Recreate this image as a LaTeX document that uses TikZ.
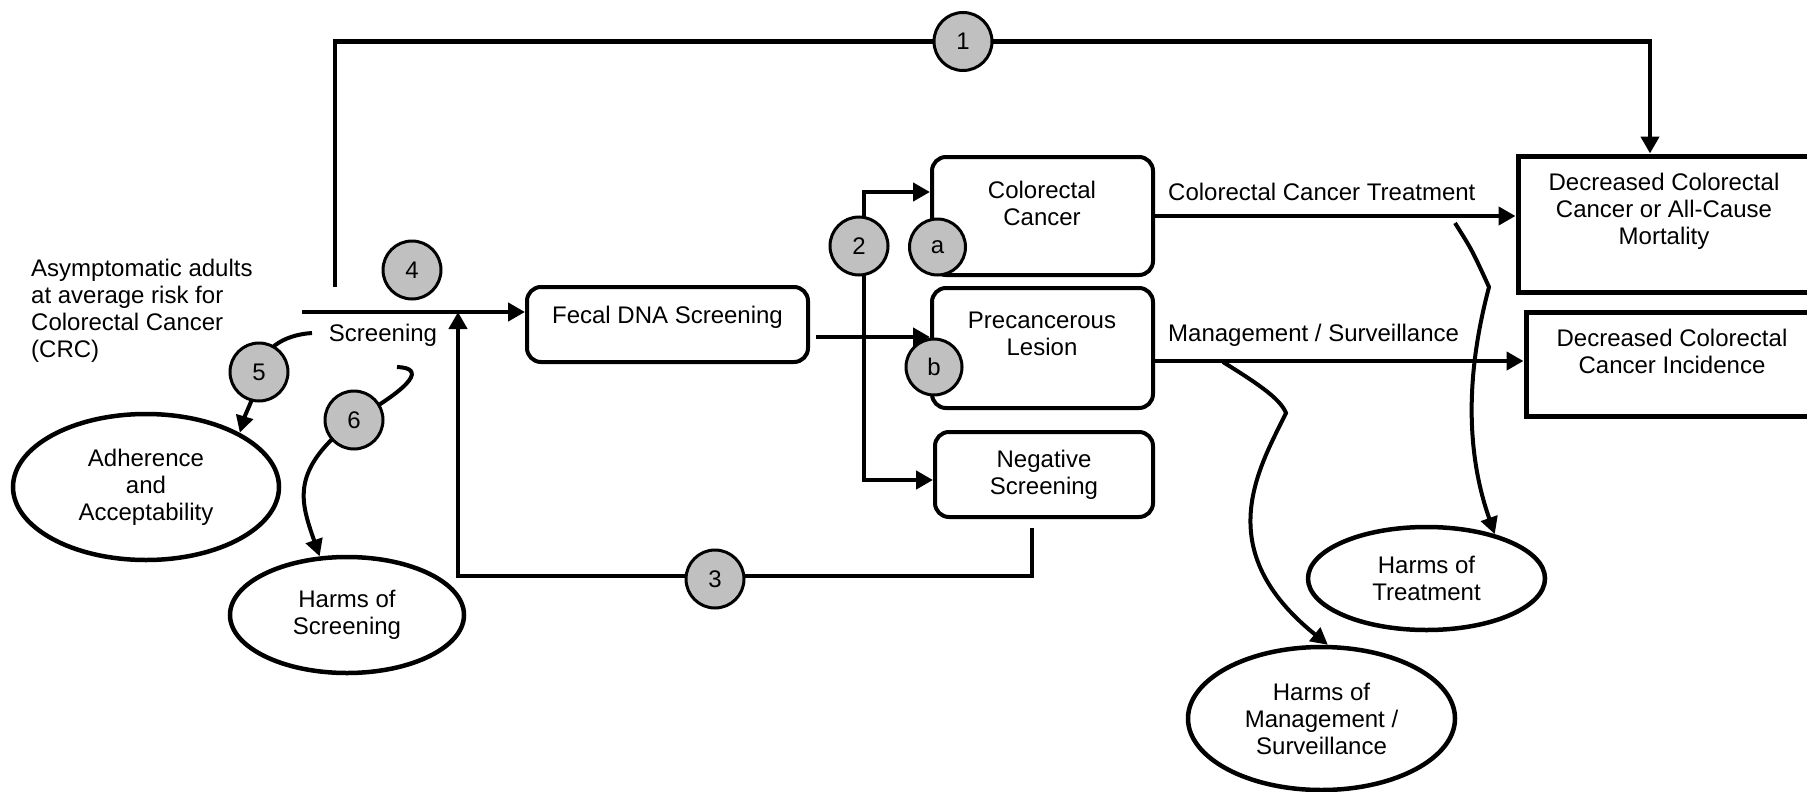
\documentclass[tikz,border=0pt]{standalone}
\usepackage{fontspec}
\setmainfont{Liberation Sans}
\usetikzlibrary{arrows.meta,shapes.geometric,calc}
\definecolor{numgray}{RGB}{192,192,192}
\begin{document}
\begin{tikzpicture}[x=1pt,y=-1pt,
  txt/.style={font=\fontsize{24}{27}\selectfont, inner sep=0pt, align=center},
  rbox/.style={draw, line width=4pt, rounded corners=14pt, inner sep=0pt},
  sbox/.style={draw, line width=5pt, inner sep=0pt},
  oval/.style={draw, ellipse, line width=4.5pt, inner sep=0pt, align=center, font=\fontsize{24}{27}\selectfont},
  num/.style={draw, circle, fill=numgray, line width=3pt, minimum size=58pt, inner sep=0pt, font=\fontsize{24}{27}\selectfont},
  conn/.style={line width=4.5pt},
  arr/.style={conn, -{Triangle[length=17pt,width=18pt]}},
  curve/.style={line width=4pt, -{Triangle[length=17pt,width=17pt]}},
]
\useasboundingbox (0,0) rectangle (1807,792);
\clip (0,0) rectangle (1807,792);

% boxes
\node[rbox, minimum width=281pt, minimum height=75pt] (fecal) at (667.5,324.5) {};
\node[txt] (fecalt) at (667.5,317) {Fecal DNA Screening};
\node[rbox, minimum width=221pt, minimum height=118pt] (cc) at (1042.5,216) {};
\node[txt] (cct) at (1042,203.5) {Colorectal\\Cancer};
\node[rbox, minimum width=221pt, minimum height=120pt] (pl) at (1042.5,348) {};
\node[txt] (plt) at (1042,333.5) {Precancerous\\Lesion};
\node[rbox, minimum width=218pt, minimum height=85pt] (neg) at (1044,474.5) {};
\node[txt] (negt) at (1044,475) {Negative\\Screening};
\node[sbox, minimum width=297pt, minimum height=136pt] (out1) at (1666.5,224) {};
\node[txt] (out1t) at (1664,211.5) {Decreased Colorectal\\Cancer or All-Cause\\Mortality};
\node[sbox, minimum width=289pt, minimum height=104pt] (out2) at (1670.5,364) {};
\node[txt] (out2t) at (1672,351.5) {Decreased Colorectal\\Cancer Incidence};

% ellipses
\node[oval, minimum width=266pt, minimum height=146pt] (adh) at (146,487) {Adherence\\and\\Acceptability};
\node[oval, minimum width=234pt, minimum height=116pt] (hs) at (347,615) {Harms of\\Screening};
\node[oval, minimum width=237pt, minimum height=103pt] (ht) at (1426.5,578.5) {Harms of\\Treatment};
\node[oval, minimum width=267pt, minimum height=143pt] (hm) at (1321.5,718.5) {Harms of\\Management /\\Surveillance};

% labels
\node[txt, align=left, anchor=west] (pop) at (31,311) {Asymptomatic adults\\at average risk for\\Colorectal Cancer\\(CRC)};
\node[txt] (scrt) at (383,335) {Screening};
\node[txt, anchor=west] (trt) at (1168,192) {Colorectal Cancer Treatment};
\node[txt, anchor=west] (mgt) at (1168,335) {Management / Surveillance};

% coordinates
\coordinate (s1) at (335,287);
\coordinate (t1l) at (335,41.5);
\coordinate (t1r) at (1650,41.5);
\coordinate (scr) at (302,312);
\coordinate (fo) at (816,337);
\coordinate (k2t) at (864,192);
\coordinate (k2) at (864,480);
\coordinate (n3) at (1032,528);
\coordinate (l3) at (458,576);
\coordinate (p5) at (259,372);
\coordinate (p6) at (354,420);
\coordinate (s5) at (312,333);
\coordinate (s6) at (397,367);
\coordinate (st) at (1455,223);
\coordinate (kt) at (1489,287);
\coordinate (sm) at (1223,362);
\coordinate (km) at (1286,413);

% connectors
\draw[arr] (s1) -- (t1l) -- (t1r) -- (t1r |- out1.north);
\draw[arr] (scr) -- (scr -| fecal.west);
\draw[arr] (fo) -- (fo -| pl.west);
\draw[conn, {Triangle[length=17pt,width=18pt]}-{Triangle[length=17pt,width=18pt]}] (k2t -| cc.west) -- (k2t) -- (k2) -- (k2 -| neg.west);
\draw[arr] (n3) |- (l3) -- (l3 |- scr);
\draw[arr] (cc.east) -- (cc.east -| out1.west);
\draw[arr] ([yshift=-13pt]pl.east) -- ([yshift=-13pt]pl.east -| out2.west);

% harms curves
\draw[curve] (st) .. controls (1472,250) .. (kt) .. controls (1475,340) and (1458,430) .. (ht.33);
\draw[curve] (sm) .. controls (1255,382) and (1280,398) .. (km) .. controls (1258,470) and (1210,550) .. (hm.85);
\draw[curve] (s5) .. controls (282,335) and (262,350) .. (p5) .. controls (256,395) and (246,412) .. (adh.30);
\draw[curve] (s6) .. controls (425,368) and (415,385) .. (p6) .. controls (290,470) and (300,500) .. (hs.115);

% numbered circles
\node[num] (c1) at (963,41.5) {1};
\node[num] (c2) at (859,246) {2};
\node[num] (c3) at (715,579) {3};
\node[num] (c4) at (412,270) {4};
\node[num] (c5) at (p5) {5};
\node[num] (c6) at (p6) {6};
\node[num, minimum size=56pt] (ca) at (937.5,247) {a};
\node[num, minimum size=56pt] (cb) at (934,367) {b};
\end{tikzpicture}
\end{document}
